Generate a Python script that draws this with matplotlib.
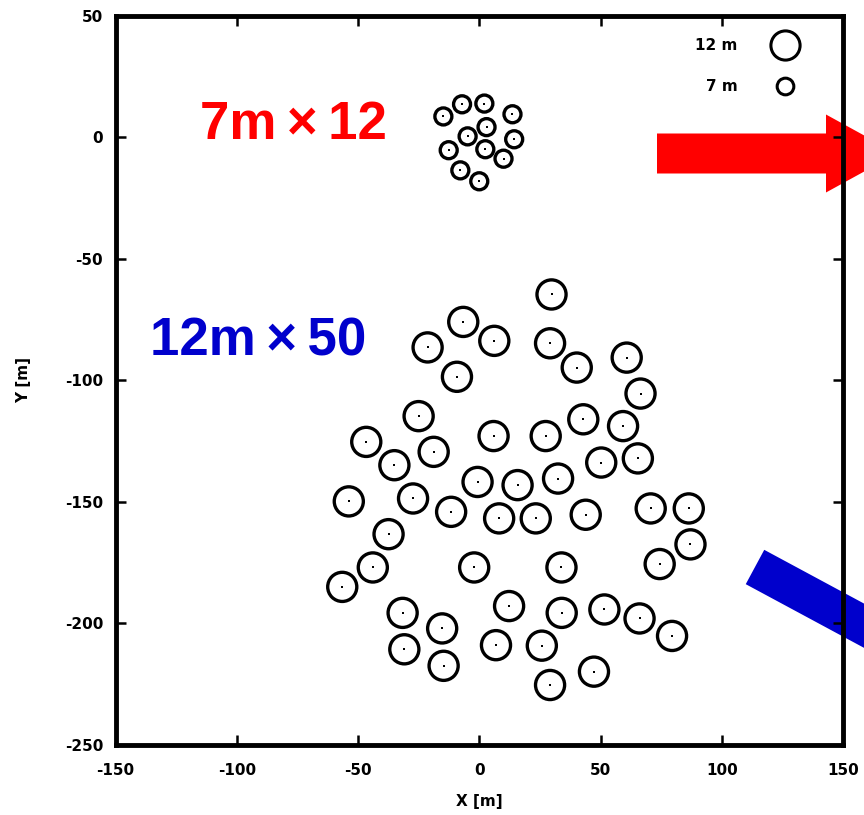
import numpy as np
import matplotlib
matplotlib.use("Agg")
import matplotlib.pyplot as plt
from matplotlib.patches import Circle, FancyArrow
from matplotlib.lines import Line2D
from matplotlib.transforms import IdentityTransform

plt.rcParams["axes.unicode_minus"] = False

# 7 m telescopes (x, y in metres)
small_x = [-7.1, 2.1, -14.8, 13.7, 3.0, -4.8, 14.4, -12.6, 2.5, 10.0, -7.8, 0.0]
small_y = [13.6, 13.9, 8.6, 9.5, 4.2, 0.4, -0.8, -5.3, -4.9, -8.8, -13.6, -18.1]

# 12 m telescopes
large_x = [29.8, -6.6, 6.2, -21.3, 29.2, 40.2, 60.8, -9.2, 66.5, -25.0,
           42.9, 59.3, -46.6, 5.9, 27.4, -18.8, -35.0, 50.3, 65.4, -0.7,
           32.5, 15.8, -53.8, -27.3, -11.6, 86.4, 70.7, 8.2, 23.3, 43.9,
           -37.4, 87.1, -43.9, -2.1, 33.9, 74.4, -56.5, 12.3, -31.6, 34.0,
           51.6, 66.1, 79.5, -15.3, -30.9, 6.9, 25.8, -14.7, 47.3, 29.2]
large_y = [-64.7, -76.0, -83.8, -86.5, -84.8, -94.8, -90.7, -98.6, -105.5, -114.8,
           -116.1, -118.9, -125.4, -123.0, -123.0, -129.5, -135.0, -133.9, -132.2, -141.9,
           -140.5, -143.2, -149.9, -148.7, -154.2, -152.8, -152.8, -156.9, -156.9, -155.4,
           -163.4, -167.6, -177.1, -177.1, -177.1, -175.7, -185.1, -193.0, -195.8, -195.8,
           -194.4, -198.1, -205.3, -202.2, -210.8, -209.1, -209.3, -217.6, -220.0, -225.5]

small_d = 7.0
large_d = 12.0
ticks = [-150, -100, -50, 0, 50, 100, 150]
yticks = [-250, -200, -150, -100, -50, 0, 50]

fig = plt.figure(figsize=(8.64, 8.15), dpi=100)
ax = fig.add_axes([0.1337, 0.0865, 0.842, 0.894])

for x, y in zip(large_x, large_y):
    ax.add_patch(Circle((x, y), large_d / 2, facecolor="white", edgecolor="black", lw=2.4, zorder=3))
for x, y in zip(small_x, small_y):
    ax.add_patch(Circle((x, y), small_d / 2, facecolor="white", edgecolor="black", lw=2.4, zorder=3))
ax.scatter(large_x + small_x, large_y + small_y, s=4, marker="s", color="black", lw=0, zorder=4)

ax.set_xlim(-150, 150)
ax.set_ylim(-250, 50)
ax.set_xticks(ticks)
ax.set_yticks(yticks)
ax.tick_params(direction="in", length=7, width=1.8, top=True, right=True, labelsize=11)
ax.tick_params(axis="x", pad=13)
ax.tick_params(axis="y", pad=9)
for lab in ax.get_xticklabels() + ax.get_yticklabels():
    lab.set_fontweight("bold")
for s in ax.spines.values():
    s.set_linewidth(3.5)
ax.set_xlabel("X [m]", fontsize=11, fontweight="bold", labelpad=12)
ax.set_ylabel("Y [m]", fontsize=11, fontweight="bold", labelpad=24)

# labels
ax.text(293, 815 - 125, "7m\u2009\u00d7\u200912", transform=IdentityTransform(), color="#ff0000",
        fontsize=38, fontweight="bold", family="Liberation Sans", ha="center", va="center")
ax.text(258, 815 - 342, "12m\u2009\u00d7\u200950", transform=IdentityTransform(), color="#0000cc",
        fontsize=38, fontweight="bold", family="Liberation Sans", ha="center", va="center")

# arrows (pixel coordinates, y up)
red = FancyArrow(657, 815 - 153.5, 240, 0, width=40, head_width=78, head_length=71,
                 length_includes_head=True, color="#ff0000", lw=0,
                 transform=IdentityTransform(), clip_on=False, zorder=1)
ax.add_patch(red)
ang = np.deg2rad(-28.3)
blue = FancyArrow(755, 815 - 567, 300 * np.cos(ang), 300 * np.sin(ang), width=39,
                  head_width=39, head_length=0.001, length_includes_head=True,
                  color="#0000cc", lw=0, transform=IdentityTransform(), clip_on=False, zorder=1)
ax.add_patch(blue)

handles = [Line2D([], [], ls="none", marker="o", ms=21, mfc="white", mec="black", mew=2.2),
           Line2D([], [], ls="none", marker="o", ms=12, mfc="white", mec="black", mew=2.2)]
leg = ax.legend(handles, ["12 m", "7 m"], loc="upper right", frameon=False, markerfirst=False,
                prop={"size": 11, "weight": "bold"}, labelspacing=1.7, handletextpad=2.3,
                handlelength=1.6, borderaxespad=0, borderpad=0,
                bbox_to_anchor=(0.937, 0.9695))

fig.savefig("out.png", dpi=100)
